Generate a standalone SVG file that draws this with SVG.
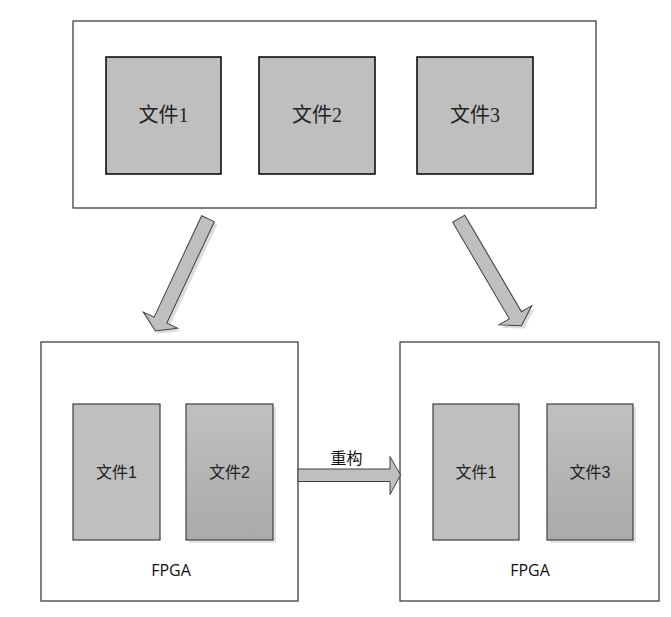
<svg xmlns="http://www.w3.org/2000/svg" width="671" height="617" viewBox="0 0 671 617">
<style>
.frame{fill:#fff;stroke:#404040;stroke-width:1.3}
.file{fill:#bfbfbf;stroke:#000;stroke-width:1.5}
.blk{fill:#bfbfbf;stroke:#404040;stroke-width:1.2}
.blkg{fill:url(#g);stroke:#404040;stroke-width:1.2}
.shadow{fill:#e3e3e3;stroke:none}
.arrow{fill:#bfbfbf;stroke:#404040;stroke-width:1}
.ashadow{fill:#dcdcdc;stroke:none}
.t1{font-family:"Liberation Serif","Noto Sans CJK SC",serif;font-size:20px;fill:#222;text-anchor:middle}
.t2{font-family:"Liberation Sans","Noto Sans CJK SC",sans-serif;font-size:16px;fill:#222;text-anchor:middle}
.t4{font-family:"Open Sans","Liberation Sans",sans-serif;font-size:16px;fill:#111;text-anchor:middle}
.t3{font-family:"Noto Sans CJK SC",sans-serif;font-size:16px;fill:#111;text-anchor:middle}
</style>
<defs>
<linearGradient id="g" x1="0" y1="0" x2="0" y2="1">
<stop offset="0" stop-color="#c0c0c0"/>
<stop offset="1" stop-color="#aaaaaa"/>
</linearGradient>
<polygon id="bigArrow" points="0,-7 112,-7 112,-19 124,0 112,19 112,7 0,7"/>
</defs>

<g id="top">
<rect class="frame" x="73" y="21" width="523" height="187"/>
<g id="top-file1"><rect class="file" x="106" y="57" width="115" height="117"/><text class="t1" x="163.5" y="122">文件1</text></g>
<g id="top-file2"><rect class="file" x="259" y="57" width="116" height="117"/><text class="t1" x="317" y="122">文件2</text></g>
<g id="top-file3"><rect class="file" x="417" y="57" width="116" height="117"/><text class="t1" x="475" y="122">文件3</text></g>
</g>

<g id="fpga-left">
<rect class="frame" x="41" y="342" width="257" height="259"/>
<g id="left-file1"><rect class="blk" x="73" y="404" width="87" height="136"/><text class="t2" x="116.5" y="478">文件1</text></g>
<g id="left-file2"><rect class="shadow" x="189" y="407" width="87" height="136"/><rect class="blkg" x="186" y="404" width="87" height="136"/><text class="t2" x="229.5" y="478">文件2</text></g>
<text class="t4" x="171" y="576">FPGA</text>
</g>

<g id="fpga-right">
<rect class="frame" x="400" y="342" width="259" height="259"/>
<g id="right-file1"><rect class="blk" x="433" y="404" width="86" height="136"/><text class="t2" x="476" y="478">文件1</text></g>
<g id="right-file3"><rect class="shadow" x="550" y="407" width="86" height="136"/><rect class="blkg" x="547" y="404" width="86" height="136"/><text class="t2" x="590" y="478">文件3</text></g>
<text class="t4" x="530" y="576">FPGA</text>
</g>

<g id="connectors">
<use href="#bigArrow" class="ashadow" transform="translate(211,221.5) rotate(115.1)"/>
<use href="#bigArrow" class="arrow" transform="translate(208,218.7) rotate(115.1)"/>
<use href="#bigArrow" class="ashadow" transform="translate(461.5,221.5) rotate(59.6)"/>
<use href="#bigArrow" class="arrow" transform="translate(458.7,218.7) rotate(59.6)"/>
<polygon class="arrow" points="298,469 390,469 390,456.5 400.5,475 390,494.5 390,481.5 298,481.5"/>
<text class="t3" x="346.5" y="464">重构</text>
</g>
</svg>
